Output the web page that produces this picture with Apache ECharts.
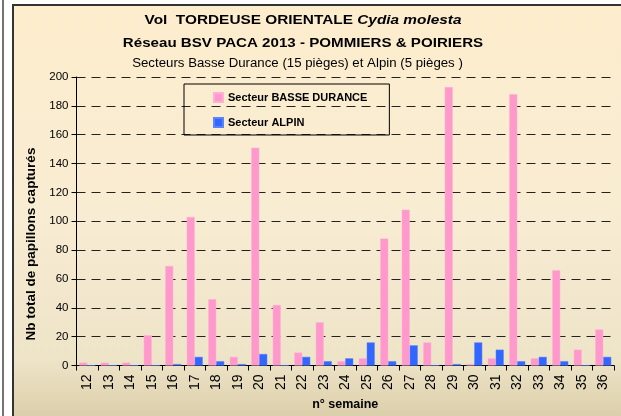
<!DOCTYPE html>
<html><head><meta charset="utf-8">
<script src="https://cdn.jsdelivr.net/npm/echarts@6/dist/echarts.min.js"></script>
<style>html,body{margin:0;padding:0;background:#fff;overflow:hidden}#c{width:621px;height:416px}</style>
</head><body><div id="c"></div>
<script>
var weeks = ['12','13','14','15','16','17','18','19','20','21','22','23','24','25','26','27','28','29','30','31','32','33','34','35','36'];
var basseDurance = [2,2,2,21,69,103,46,6,151,42,9,30,3,5,88,108,16,193,1,5,188,5,66,11,25];
var alpin = [0,0,0,0,1,6,3,1,8,0,6,3,5,16,3,14,0,1,16,11,3,6,3,0,6];
var yTicks = {min:0, max:200, interval:20};

var el = document.getElementById('c');
var chart = echarts.init(el, null, {renderer:'canvas'});
var F = '"Liberation Sans", Arial, sans-serif';
chart.setOption({
  animation:false,
  backgroundColor:'#ffffff',
  textStyle:{fontFamily:F},
  graphic:[
    {type:'rect', z:-10, shape:{x:13, y:5, width:612, height:415},
     style:{fill:{type:'linear',x:0,y:0,x2:0,y2:1,colorStops:[
       {offset:0,color:'#FDEDCD'},{offset:0.5,color:'#F8ECD2'},{offset:0.85,color:'#EEE4C8'},{offset:1,color:'#DACDA8'}]},
       stroke:'#333', lineWidth:2}},
    {type:'line', z:-10, shape:{x1:3,y1:0,x2:3,y2:416}, style:{stroke:'#444', lineWidth:1.5}},
    {type:'text', x:303, y:21, scaleX:1.23, style:{
      text:'{b|Vol  TORDEUSE ORIENTALE }{i|Cydia molesta}', align:'center', verticalAlign:'middle',
      rich:{b:{fontFamily:F,fontWeight:'bold',fontSize:12.5,fill:'#000'},i:{fontFamily:F,fontStyle:'italic',fontWeight:'bold',fontSize:12.5,fill:'#000'}}}},
    {type:'text', x:303, y:44, scaleX:1.21, style:{text:'Réseau BSV PACA 2013 - POMMIERS & POIRIERS', align:'center', verticalAlign:'middle', fontFamily:F, fontWeight:'bold', fontSize:12.5, fill:'#000'}},
    {type:'text', x:297.5, y:64, scaleX:1.06, style:{text:'Secteurs Basse Durance (15 pièges) et Alpin (5 pièges )', align:'center', verticalAlign:'middle', fontFamily:F, fontSize:12.5, fill:'#000'}},
    {type:'text', x:31, y:244, rotation:Math.PI/2, style:{text:'Nb total de papillons capturés', fontFamily:F, fontWeight:'bold', fontSize:13.5, fill:'#000', align:'center', verticalAlign:'middle'}}
  ],
  legend:{
    left:184, top:84, orient:'vertical',
    padding:[8,22,7,29], itemGap:14, itemWidth:9, itemHeight:9,
    borderColor:'#000', borderWidth:1, backgroundColor:'transparent',
    textStyle:{fontFamily:F, fontWeight:'bold', fontSize:11, color:'#000'},
    data:[{name:'Secteur BASSE DURANCE', icon:'rect'},{name:'Secteur ALPIN', icon:'rect'}]
  },
  grid:{left:76.5, right:7, top:77, bottom:46, containLabel:false},
  xAxis:{
    type:'category', data:weeks, boundaryGap:true,
    name:'n° semaine', nameLocation:'middle', nameGap:32,
    nameTextStyle:{fontFamily:F, fontWeight:'bold', fontSize:12.5, color:'#000'},
    axisLine:{lineStyle:{color:'#000', width:1}},
    axisTick:{show:true, length:5, lineStyle:{color:'#000'}},
    axisLabel:{rotate:90, fontSize:14, color:'#000', fontFamily:F, margin:9}
  },
  yAxis:{
    type:'value', min:yTicks.min, max:yTicks.max, interval:yTicks.interval,
    axisLine:{show:true, lineStyle:{color:'#000', width:1}},
    axisTick:{show:true, length:5, lineStyle:{color:'#000'}},
    axisLabel:{fontSize:11.5, color:'#000', fontFamily:F, margin:8},
    splitLine:{show:true, lineStyle:{color:'#222', type:[9,6], width:1}}
  },
  series:[
    {name:'Secteur BASSE DURANCE', type:'bar', data:basseDurance, barWidth:8, barGap:'0%',
     itemStyle:{color:'#FF99CC', borderColor:'#FFB0D8', borderWidth:0.5}},
    {name:'Secteur ALPIN', type:'bar', data:alpin, barWidth:8,
     itemStyle:{color:'#3366FF', borderColor:'#5A84FF', borderWidth:0.5}}
  ]
});
</script></body></html>
